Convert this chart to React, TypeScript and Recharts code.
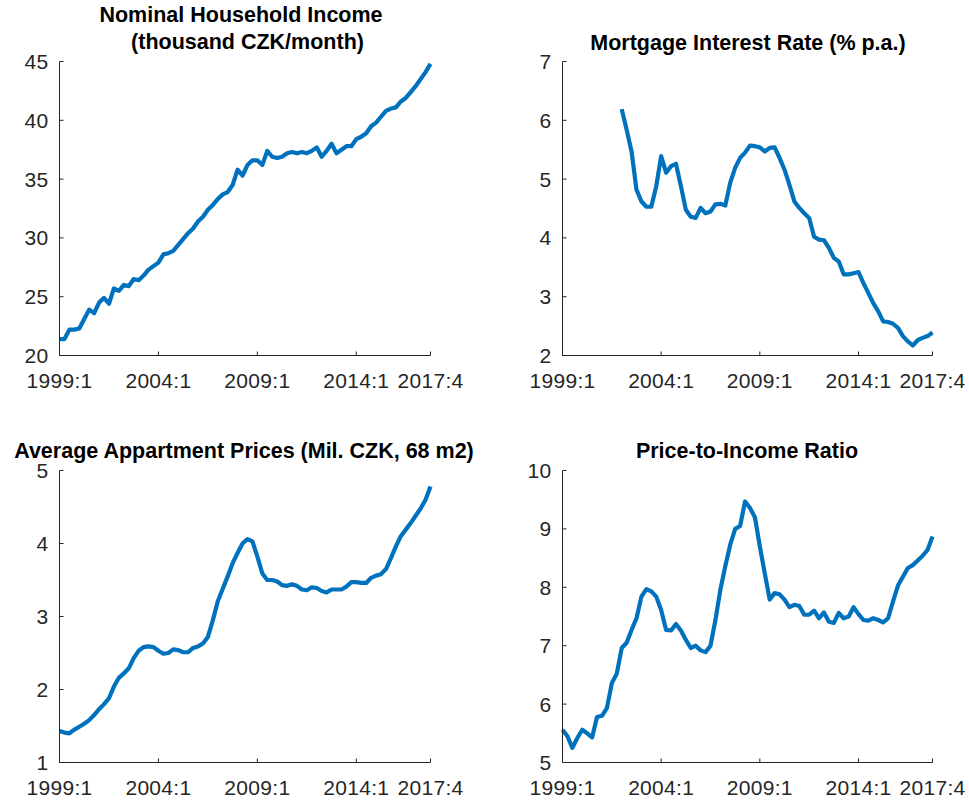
import React from 'react';
import { LineChart, Line, XAxis, YAxis } from 'recharts';

// Quarter index 0 = 1999:1 ... 75 = 2017:4
const tickQuarters = [0, 20, 40, 60, 75];
const tickLabels = ['1999:1', '2004:1', '2009:1', '2014:1', '2017:4'];

const income = [
  21.4, 21.4, 22.2, 22.2, 22.3, 23.1, 23.9, 23.6, 24.5, 24.9,
  24.4, 25.7, 25.5, 26.0, 25.9, 26.5, 26.4, 26.8, 27.3, 27.6,
  27.9, 28.6, 28.7, 28.9, 29.4, 29.9, 30.4, 30.8, 31.4, 31.8,
  32.4, 32.8, 33.3, 33.7, 33.9, 34.5, 35.8, 35.3, 36.2, 36.6,
  36.6, 36.2, 37.4, 36.9, 36.8, 36.9, 37.2, 37.3, 37.2, 37.3,
  37.2, 37.4, 37.7, 36.9, 37.4, 38.0, 37.2, 37.5, 37.8, 37.8,
  38.4, 38.6, 38.9, 39.5, 39.8, 40.3, 40.8, 41.0, 41.1, 41.6,
  41.9, 42.4, 42.9, 43.5, 44.1, 44.8,
];

const mortgage = [
  null, null, null, null, null, null, null, null, null, null,
  null, null, 6.19, 5.84, 5.47, 4.82, 4.62, 4.53, 4.53, 4.88,
  5.39, 5.11, 5.22, 5.26, 4.88, 4.48, 4.36, 4.34, 4.51, 4.42,
  4.45, 4.57, 4.58, 4.55, 4.94, 5.19, 5.36, 5.45, 5.57, 5.56,
  5.54, 5.47, 5.53, 5.54, 5.36, 5.16, 4.90, 4.62, 4.51, 4.42,
  4.34, 4.02, 3.97, 3.96, 3.83, 3.66, 3.60, 3.38, 3.38, 3.40,
  3.42, 3.23, 3.06, 2.89, 2.75, 2.58, 2.57, 2.54, 2.47, 2.33,
  2.24, 2.17, 2.26, 2.30, 2.33, 2.39,
];

const prices = [
  1.43, 1.41, 1.40, 1.45, 1.49, 1.53, 1.58, 1.65, 1.73, 1.80,
  1.88, 2.04, 2.16, 2.22, 2.29, 2.43, 2.53, 2.58, 2.59, 2.58,
  2.53, 2.49, 2.50, 2.55, 2.54, 2.51, 2.51, 2.57, 2.59, 2.63,
  2.72, 2.95, 3.21, 3.38, 3.55, 3.73, 3.87, 4.00, 4.06, 4.03,
  3.82, 3.59, 3.50, 3.50, 3.48, 3.43, 3.42, 3.44, 3.42, 3.37,
  3.36, 3.40, 3.39, 3.35, 3.33, 3.37, 3.37, 3.37, 3.41, 3.47,
  3.47, 3.46, 3.46, 3.53, 3.56, 3.58, 3.65, 3.80, 3.96, 4.10,
  4.19, 4.28, 4.38, 4.48, 4.60, 4.78,
];

const ratio = [
  5.56, 5.45, 5.25, 5.42, 5.56, 5.50, 5.43, 5.78, 5.80, 5.93,
  6.36, 6.52, 6.96, 7.05, 7.27, 7.47, 7.84, 7.97, 7.93, 7.84,
  7.61, 7.27, 7.26, 7.37, 7.26, 7.10, 6.96, 7.00, 6.92, 6.89,
  7.00, 7.44, 7.96, 8.36, 8.73, 9.00, 9.05, 9.47, 9.36, 9.20,
  8.70, 8.24, 7.79, 7.90, 7.88, 7.79, 7.66, 7.70, 7.68, 7.53,
  7.53, 7.60, 7.47, 7.57, 7.41, 7.39, 7.56, 7.47, 7.50, 7.66,
  7.54, 7.44, 7.43, 7.47, 7.44, 7.40, 7.47, 7.76, 8.03, 8.18,
  8.33, 8.38, 8.46, 8.54, 8.64, 8.87,
];

const incomeTicks = [20, 25, 30, 35, 40, 45];
const mortgageTicks = [2, 3, 4, 5, 6, 7];
const pricesTicks = [1, 2, 3, 4, 5];
const ratioTicks = [5, 6, 7, 8, 9, 10];

const toData = (arr: (number | null)[]) => arr.map((v, i) => ({ q: i, v }));

const FONT = '"Liberation Sans", Arial, Helvetica, sans-serif';
const AXIS = '#262626';
const LINE = '#0072BD';

type PanelProps = {
  left: number;
  top: number;
  width: number;
  height: number;
  yAxisWidth: number;
  xAxisHeight: number;
  marginTop: number;
  marginRight: number;
  data: { q: number; v: number | null }[];
  yTicks: number[];
};

function Panel(p: PanelProps) {
  const domain: [number, number] = [p.yTicks[0], p.yTicks[p.yTicks.length - 1]];
  return (
    <div style={{ position: 'absolute', left: p.left, top: p.top, width: p.width, height: p.height }}>
      <LineChart
        width={p.width}
        height={p.height}
        data={p.data}
        margin={{ top: p.marginTop, right: p.marginRight, left: 0, bottom: 0 }}
      >
        <XAxis
          dataKey="q"
          type="number"
          domain={[0, 75]}
          ticks={tickQuarters}
          interval={0}
          height={p.xAxisHeight}
          tickFormatter={(v: number) => tickLabels[tickQuarters.indexOf(v)] ?? ''}
          tickSize={-4}
          tickMargin={22}
          axisLine={{ stroke: AXIS, strokeWidth: 1 }}
          tickLine={{ stroke: AXIS, strokeWidth: 1 }}
          tick={{ fill: AXIS, fontSize: 21, fontFamily: FONT, letterSpacing: 0.3 }}
        />
        <YAxis
          type="number"
          domain={domain}
          ticks={p.yTicks}
          interval={0}
          width={p.yAxisWidth}
          tickSize={-4}
          tickMargin={15}
          axisLine={{ stroke: AXIS, strokeWidth: 1 }}
          tickLine={{ stroke: AXIS, strokeWidth: 1 }}
          tick={{ fill: AXIS, fontSize: 21, fontFamily: FONT, letterSpacing: 0.3 }}
          allowDataOverflow
        />
        <Line
          type="linear"
          dataKey="v"
          stroke={LINE}
          strokeWidth={4.2}
          strokeLinejoin="round"
          dot={false}
          activeDot={false}
          isAnimationActive={false}
        />
      </LineChart>
    </div>
  );
}

function Title({ text, cx, baseline }: { text: string; cx: number; baseline: number }) {
  return (
    <div
      style={{
        position: 'absolute',
        left: cx - 300,
        width: 600,
        top: baseline - 18.2,
        textAlign: 'center',
        fontFamily: FONT,
        fontWeight: 'bold',
        fontSize: 21.5,
        lineHeight: '21.5px',
        color: '#000',
        whiteSpace: 'nowrap',
      }}
    >
      {text}
    </div>
  );
}

export default function App() {
  return (
    <div
      style={{
        position: 'absolute',
        left: 0,
        top: 0,
        width: 969,
        height: 803,
        background: '#fff',
        overflow: 'hidden',
      }}
    >
      <Panel
        left={0}
        top={0}
        width={480}
        height={400}
        yAxisWidth={59.5}
        xAxisHeight={44.5}
        marginTop={61.5}
        marginRight={49.5}
        data={toData(income)}
        yTicks={incomeTicks}
      />
      <Panel
        left={480}
        top={0}
        width={489}
        height={400}
        yAxisWidth={82.5}
        xAxisHeight={44.5}
        marginTop={61.5}
        marginRight={36.5}
        data={toData(mortgage)}
        yTicks={mortgageTicks}
      />
      <Panel
        left={0}
        top={400}
        width={480}
        height={403}
        yAxisWidth={59.5}
        xAxisHeight={40.5}
        marginTop={70.5}
        marginRight={49.5}
        data={toData(prices)}
        yTicks={pricesTicks}
      />
      <Panel
        left={480}
        top={400}
        width={489}
        height={403}
        yAxisWidth={82.5}
        xAxisHeight={40.5}
        marginTop={70.5}
        marginRight={36.5}
        data={toData(ratio)}
        yTicks={ratioTicks}
      />
      <Title text="Nominal Household Income" cx={241} baseline={22.7} />
      <Title text="(thousand CZK/month)" cx={247.5} baseline={50} />
      <Title text="Mortgage Interest Rate (% p.a.)" cx={748} baseline={50.7} />
      <Title text="Average Appartment Prices (Mil. CZK, 68 m2)" cx={244} baseline={459.5} />
      <Title text="Price-to-Income Ratio" cx={747} baseline={459.5} />
    </div>
  );
}
